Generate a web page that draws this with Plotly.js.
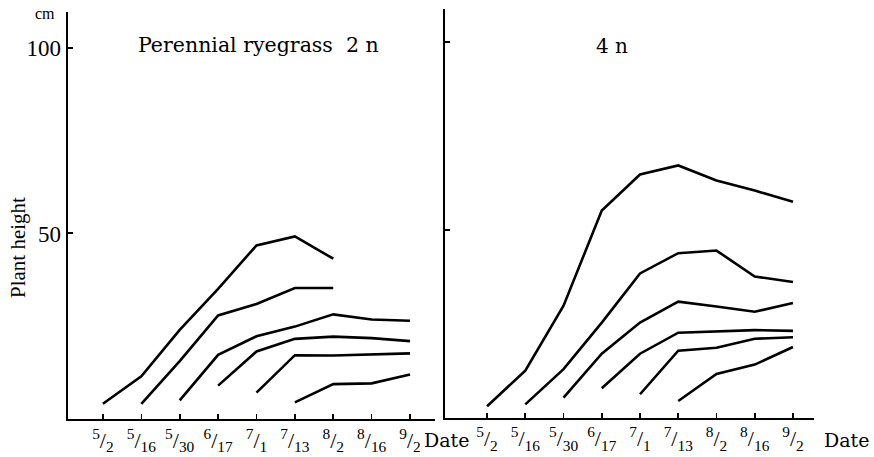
<!DOCTYPE html>
<html>
<head>
<meta charset="utf-8">
<script src="https://cdn.plot.ly/plotly-3.0.1.min.js"></script>
<style>html,body{margin:0;padding:0;background:#fff;}#chart{width:874px;height:457px;}</style>
</head>
<body>
<div id="chart"></div>
<script>
// Dates (month/day)
const dates = ['5/2','5/16','5/30','6/17','7/1','7/13','8/2','8/16','9/2'];
const dateNum = ['5','5','5','6','7','7','8','8','9'];
const dateDen = ['2','16','30','17','1','13','2','16','2'];

// Perennial ryegrass 2n – plant height (cm), one series per sowing/cutting start
const d2n_a = [4.1, 11.5, 24.0, 35.1, 46.8, 49.2, 43.2, null, null];
const d2n_b = [null, 4.1, 15.6, 27.9, 31.0, 35.3, 35.3, null, null];
const d2n_c = [null, null, 5.0, 17.3, 22.3, 24.9, 28.2, 26.8, 26.5];
const d2n_d = [null, null, null, 9.0, 18.2, 21.6, 22.2, 21.8, 21.0];
const d2n_e = [null, null, null, null, 7.1, 17.2, 17.1, 17.4, 17.7];
const d2n_f = [null, null, null, null, null, 4.5, 9.4, 9.6, 12.0];

// 4n
const d4n_a = [3.0, 12.5, 29.8, 55.2, 64.8, 67.2, 63.2, 60.5, 57.5];
const d4n_b = [null, 3.5, 12.9, 25.3, 38.4, 43.8, 44.5, 37.6, 36.1];
const d4n_c = [null, null, 5.3, 17.0, 25.3, 30.9, 29.6, 28.2, 30.5];
const d4n_d = [null, null, null, 7.8, 17.0, 22.6, 23.0, 23.3, 23.1];
const d4n_e = [null, null, null, null, 6.2, 17.8, 18.6, 21.0, 21.4];
const d4n_f = [null, null, null, null, null, 4.4, 11.6, 14.1, 18.8];

const yTicks = [50, 100];

const W = 874, H = 457;
const px = x => x / W;
const py = y => 1 - y / H;

const tickText = dates.map((d, i) => '<sup>' + dateNum[i] + '</sup>/<sub>' + dateDen[i] + '</sub>');

const lineStyle = {color: '#000', width: 2.6};
function mk(y, xa, ya) {
  return {x: dates, y: y, type: 'scatter', mode: 'lines', line: lineStyle,
          xaxis: xa, yaxis: ya, hoverinfo: 'skip', connectgaps: false, showlegend: false};
}
const data = [
  mk(d2n_a,'x','y'), mk(d2n_b,'x','y'), mk(d2n_c,'x','y'),
  mk(d2n_d,'x','y'), mk(d2n_e,'x','y'), mk(d2n_f,'x','y'),
  mk(d4n_a,'x2','y2'), mk(d4n_b,'x2','y2'), mk(d4n_c,'x2','y2'),
  mk(d4n_d,'x2','y2'), mk(d4n_e,'x2','y2'), mk(d4n_f,'x2','y2')
];

const serif = 'Liberation Serif, DejaVu Serif, serif';
const wide = 'DejaVu Serif, serif';
const xCommon = {
  type: 'category', showline: true, linecolor: '#000', linewidth: 2.4,
  ticks: 'inside', ticklen: 5, tickwidth: 1.6, tickcolor: '#000',
  tickmode: 'array', tickvals: dates, ticktext: tickText,
  tickfont: {family: serif, size: 22, color: '#000'},
  showgrid: false, zeroline: false, fixedrange: true
};
const yCommon = {
  showline: true, linecolor: '#000', linewidth: 2.4,
  ticks: 'inside', ticklen: 5, tickwidth: 2, tickcolor: '#000',
  tickmode: 'array', tickvals: yTicks,
  tickfont: {family: serif, size: 23, color: '#000'},
  showgrid: false, zeroline: false, fixedrange: true
};

const layout = {
  width: W, height: H,
  margin: {l: 0, r: 0, t: 0, b: 0},
  paper_bgcolor: '#fff', plot_bgcolor: 'rgba(0,0,0,0)',
  showlegend: false,
  xaxis: Object.assign({}, xCommon, {domain: [px(68), px(435)], range: [-0.91, 8.65], anchor: 'y'}),
  yaxis: Object.assign({}, yCommon, {domain: [py(419), py(12)], range: [0, 109.7], anchor: 'x'}),
  xaxis2: Object.assign({}, xCommon, {domain: [px(445), px(814)], range: [-1.10, 8.55], anchor: 'y2'}),
  yaxis2: Object.assign({}, yCommon, {domain: [py(417.5), py(9)], range: [0, 108.9], anchor: 'x2', showticklabels: false}),
  annotations: [
    {text: 'cm', x: px(45), y: py(14), xref: 'paper', yref: 'paper', showarrow: false,
     xanchor: 'center', yanchor: 'middle', font: {family: serif, size: 16, color: '#000'}},
    {text: 'Plant height', x: px(18), y: py(248), xref: 'paper', yref: 'paper', showarrow: false,
     textangle: -90, xanchor: 'center', yanchor: 'middle', font: {family: serif, size: 21, color: '#000'}},
    {text: 'Perennial ryegrass&#160;&#160;2 n', x: px(258), y: py(45), xref: 'paper', yref: 'paper', showarrow: false,
     xanchor: 'center', yanchor: 'middle', font: {family: wide, size: 20.5, color: '#000'}},
    {text: '4 n', x: px(612), y: py(46), xref: 'paper', yref: 'paper', showarrow: false,
     xanchor: 'center', yanchor: 'middle', font: {family: wide, size: 20, color: '#000'}},
    {text: 'Date', x: px(446), y: py(440), xref: 'paper', yref: 'paper', showarrow: false,
     xanchor: 'center', yanchor: 'middle', font: {family: wide, size: 19, color: '#000'}},
    {text: 'Date', x: px(846), y: py(440), xref: 'paper', yref: 'paper', showarrow: false,
     xanchor: 'center', yanchor: 'middle', font: {family: wide, size: 19, color: '#000'}}
  ]
};

Plotly.newPlot('chart', data, layout, {staticPlot: true, displayModeBar: false});
</script>
</body>
</html>
